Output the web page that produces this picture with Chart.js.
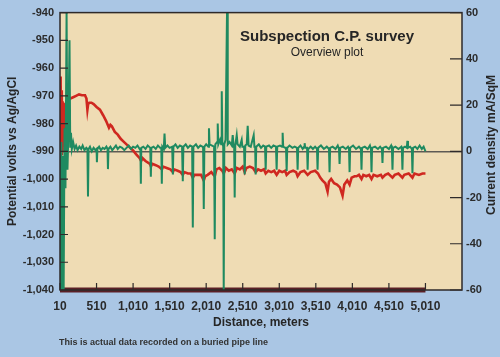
<!DOCTYPE html>
<html><head><meta charset="utf-8">
<script src="https://cdn.jsdelivr.net/npm/chart.js@4"></script>
<style>html,body{margin:0;padding:0;background:#aac6e4;}canvas{display:block;}</style>
</head><body>
<canvas id="c" width="500" height="357"></canvas>
<script>
// ---- data ----
const distanceTicks = [10, 510, 1010, 1510, 2010, 2510, 3010, 3510, 4010, 4510, 5010];
const potentialTicks = [-940, -950, -960, -970, -980, -990, -1000, -1010, -1020, -1030, -1040];
const currentTicks = [60, 40, 20, 0, -20, -40, -60];

const potentialDist = [10,16,22,28,34,40,46,54,62,80,110,150,190,230,270,310,352,372,385,395,410,440,470,510,556,600,640,680,700,720,760,800,840,880,920,960,1007,1050,1100,1120,1140,1180,1240,1255,1270,1320,1360,1405,1420,1470,1520,1555,1570,1620,1660,1690,1710,1760,1800,1827,1850,1900,1940,1977,1995,2030,2080,2127,2150,2190,2230,2250,2280,2320,2360,2400,2430,2470,2510,2537,2560,2606,2650,2687,2720,2760,2800,2824,2860,2900,2940,2974,3010,3050,3090,3111,3150,3200,3240,3261,3300,3350,3398,3440,3500,3540,3570,3600,3640,3671,3690,3720,3760,3800,3840,3876,3900,3940,3972,4000,4040,4067,4100,4135,4160,4200,4240,4272,4300,4350,4400,4422,4460,4500,4559,4590,4640,4695,4720,4780,4832,4860,4920,4970,5010];
const potentialVal = [-963,-990,-966,-991,-968,-990,-972,-988,-975,-973,-972,-971,-970.5,-970,-969.5,-969.8,-969.8,-971,-975,-973,-972.5,-972.5,-973,-974,-975,-977,-979,-981.5,-980.5,-981,-983,-984,-985.5,-986.5,-987.5,-988.5,-989.6,-991,-992.5,-993.5,-992.5,-993.5,-994.5,-995.5,-994.5,-995,-995.5,-996.5,-995.5,-996,-996.5,-997.5,-996.5,-997,-997.5,-998.5,-997.5,-998,-998,-999.5,-998.5,-998.5,-998.5,-1000.5,-999,-998.5,-997.5,-999,-996.5,-996,-997,-998,-996,-997,-996.5,-998,-996,-996.5,-995.5,-997.5,-996,-995.5,-996,-997.5,-996.5,-997,-996.5,-998,-997,-997.5,-997,-998.5,-997,-997.5,-997,-998.5,-997.5,-997,-997.5,-999,-997.5,-997,-998.5,-997.5,-997,-998,-999.5,-1000.5,-1001.5,-1004.5,-1001,-1000,-1001.5,-1002,-1003,-1006,-1002,-1000.5,-1002,-999.5,-999,-999,-998.5,-1000,-998.5,-999,-998.5,-1000,-998.5,-999,-998.5,-999.5,-998.5,-998,-999.5,-998.5,-998,-999.5,-998.5,-998,-999.5,-998,-998.5,-998,-998];

const currentDist = [10,18,28,40,52,60,72,85,100,112,125,140,150,160,172,190,210,230,250,275,300,320,345,370,385,393,401,420,445,470,495,510,515,522,545,570,595,620,645,660,666,673,700,725,750,775,800,830,860,890,920,950,980,1010,1040,1070,1100,1110,1116,1122,1150,1180,1210,1245,1253,1260,1290,1320,1350,1380,1396,1403,1410,1430,1440,1450,1480,1510,1545,1554,1562,1590,1620,1650,1680,1690,1698,1730,1760,1790,1818,1827,1835,1870,1900,1930,1960,1968,1977,1985,2010,2040,2048,2056,2090,2118,2127,2135,2160,2168,2176,2200,2215,2223,2231,2243,2250,2258,2275,2295,2305,2330,2360,2373,2386,2393,2400,2408,2428,2440,2470,2496,2505,2528,2537,2545,2565,2578,2590,2620,2660,2670,2680,2687,2695,2730,2760,2790,2815,2824,2832,2870,2900,2930,2965,2974,2982,3020,3048,3056,3064,3090,3102,3111,3119,3150,3190,3220,3252,3261,3269,3300,3330,3350,3357,3365,3390,3398,3406,3440,3470,3500,3526,3534,3542,3580,3620,3660,3690,3698,3706,3740,3780,3810,3827,3835,3843,3880,3920,3950,3964,3972,3980,4020,4060,4100,4127,4135,4143,4180,4220,4250,4264,4272,4280,4320,4360,4390,4414,4422,4430,4470,4510,4540,4551,4559,4567,4600,4640,4680,4687,4695,4703,4730,4755,4763,4771,4800,4824,4832,4840,4870,4900,4930,4960,4985,5010];
const currentVal = [0,-60,4,-60,-2,-60,10,-16,60,-8,8,48,2,8,1,4,1,2.5,0.5,2,1,2.5,0.5,1.5,1,-19.6,1,2,0,1.5,0.5,1,-4.7,1,2,0.5,1.5,1,2,1,-7.7,1,2,0.5,1.5,2.5,1,2,1.5,0.5,1.5,2.5,1,2,1.5,2.5,1,1,-14,1.5,2,1,2.5,1.5,-11,1.5,2,1,2.5,1.5,1.5,-14,2,1,7.7,1.5,2.5,1.5,2,-10,2,3,1.5,2.5,2,-13,2,3,1.5,2.5,2,-33,2,3,1.5,2.5,2,1.5,-25,2,3,2,10,3,2.5,2,-38,3,4,12,3,5,3,26,4,2,-60,3,5,60,3,4,2.5,7,2,2,-20,2.5,7,3,2,5,2,2,-10,2.5,3,11,2.5,2,7,2,2,-10,2,3,1.5,2.5,2,-8,2,2.5,1.5,2.5,2,-8,2,2.5,2,8,2,1.5,2,-8.5,1.5,2.5,1.5,2,1.5,-8,1.5,2.5,1,2,3.5,1.5,1.5,-8,1,2,1,2,1,-8,1.5,2.5,1,2,1,-9,1.5,2,1,2.5,1,-5.5,1.5,2,1,2,1,-9,1.5,2.5,1,2,1,-8,1.5,2,1,2.5,1,-9,1.5,2,1,2,1,-5,1.5,2,1,2.5,1,-8,1.5,2,1,2,1,-8,1.5,2,1.5,4.5,1.5,2,1,-9.5,1.5,2,1,2.5,1,2,0];

const baselineDist = [10, 5010];
const baselineVal = [-1040, -1040];

// ---- chart ----
const FONT = '"Liberation Sans", Arial, sans-serif';
Chart.defaults.font.family = FONT;
const toPts = (xs, ys) => xs.map((x, i) => ({x: x, y: ys[i]}));
const fmt = v => Number(v).toLocaleString('en-US');

const decor = {
  id: 'decor',
  beforeDraw(chart) {
    const {ctx, chartArea: a} = chart;
    ctx.save();
    ctx.fillStyle = '#aac6e4';
    ctx.fillRect(0, 0, chart.width, chart.height);
    ctx.fillStyle = '#efdcb4';
    ctx.fillRect(a.left, a.top, a.right - a.left, a.bottom - a.top);
    ctx.restore();
  },
  afterDatasetsDraw(chart) {
    const {ctx, chartArea: a, scales} = chart;
    ctx.save();
    ctx.strokeStyle = '#2e2a2a';
    ctx.lineWidth = 1.5;
    ctx.strokeRect(a.left, a.top, a.right - a.left, a.bottom - a.top);
    ctx.lineWidth = 1.2;
    ctx.beginPath();
    scales.y.ticks.forEach(t => { const p = scales.y.getPixelForValue(t.value); ctx.moveTo(a.left, p); ctx.lineTo(a.left + 8, p); });
    scales.y2.ticks.forEach(t => { const p = scales.y2.getPixelForValue(t.value); ctx.moveTo(a.right - 12, p); ctx.lineTo(a.right, p); });
    scales.x.ticks.forEach(t => { const p = scales.x.getPixelForValue(t.value); ctx.moveTo(p, a.bottom - 7); ctx.lineTo(p, a.bottom); });
    ctx.stroke();
    // titles
    ctx.fillStyle = '#262626';
    ctx.textAlign = 'center';
    ctx.textBaseline = 'middle';
    ctx.font = 'bold 15px ' + FONT;
    ctx.fillText('Subspection C.P. survey', 327, 37);
    ctx.font = '12px ' + FONT;
    ctx.fillText('Overview plot', 327, 53);
    // right axis title
    ctx.save();
    ctx.translate(492, 145);
    ctx.rotate(-Math.PI / 2);
    ctx.font = 'bold 12px ' + FONT;
    ctx.fillText('Current density mA/SqM', 0, 0);
    ctx.restore();
    // footnote
    ctx.textAlign = 'left';
    ctx.font = 'bold 9px ' + FONT;
    ctx.fillStyle = '#333';
    ctx.fillText('This is actual data recorded on a buried pipe line', 59, 343);
    ctx.restore();
  }
};

new Chart(document.getElementById('c'), {
  type: 'line',
  data: {
    datasets: [
      {label: 'Current density', data: toPts(currentDist, currentVal), yAxisID: 'y2', borderColor: '#1f8a60', borderWidth: 2, pointRadius: 0, tension: 0},
      {label: 'Potential', data: toPts(potentialDist, potentialVal), yAxisID: 'y', borderColor: '#cf2820', borderWidth: 2.6, pointRadius: 0, tension: 0},
      {label: 'Base', data: toPts(baselineDist, baselineVal), yAxisID: 'y', borderColor: '#5a2026', borderWidth: 5, pointRadius: 0, clip: false}
    ]
  },
  options: {
    responsive: false,
    animation: false,
    devicePixelRatio: 1,
    layout: {padding: {top: 8, left: 0, right: 0, bottom: 0}},
    plugins: {legend: {display: false}, tooltip: {enabled: false}},
    scales: {
      x: {
        type: 'linear', position: 'bottom', min: 10, max: 5510,
        afterBuildTicks: s => { s.ticks = distanceTicks.map(v => ({value: v})); },
        afterFit: s => { s.height = 67; },
        grid: {display: false, drawTicks: false},
        border: {display: false},
        ticks: {font: {size: 12, weight: 'bold'}, color: '#2b2b2b', padding: 9, maxRotation: 0, autoSkip: false, callback: v => fmt(v)},
        title: {display: true, text: 'Distance, meters', font: {size: 12, weight: 'bold'}, color: '#262626', padding: {top: 0, bottom: 27}}
      },
      y: {
        type: 'linear', position: 'left', min: -1040, max: -940,
        afterBuildTicks: s => { s.ticks = potentialTicks.map(v => ({value: v})); },
        afterFit: s => { s.width = 60; },
        grid: {display: false, drawTicks: false},
        border: {display: false},
        ticks: {font: {size: 11, weight: 'bold'}, color: '#2b2b2b', padding: 6, callback: v => fmt(v)},
        title: {display: true, text: 'Potential volts vs Ag/AgCl', font: {size: 12, weight: 'bold'}, color: '#262626', padding: {top: 5, bottom: 0}}
      },
      y2: {
        type: 'linear', position: 'right', min: -60, max: 60,
        afterBuildTicks: s => { s.ticks = currentTicks.map(v => ({value: v})); },
        afterFit: s => { s.width = 38; },
        grid: {drawOnChartArea: true, drawTicks: false, lineWidth: 1.5, color: c => (c.tick && c.tick.value === 0) ? '#5e5a55' : 'rgba(0,0,0,0)'},
        border: {display: false},
        ticks: {font: {size: 11, weight: 'bold'}, color: '#2b2b2b', padding: 4, callback: v => fmt(v)}
      }
    }
  },
  plugins: [decor]
});
</script>
</body></html>
